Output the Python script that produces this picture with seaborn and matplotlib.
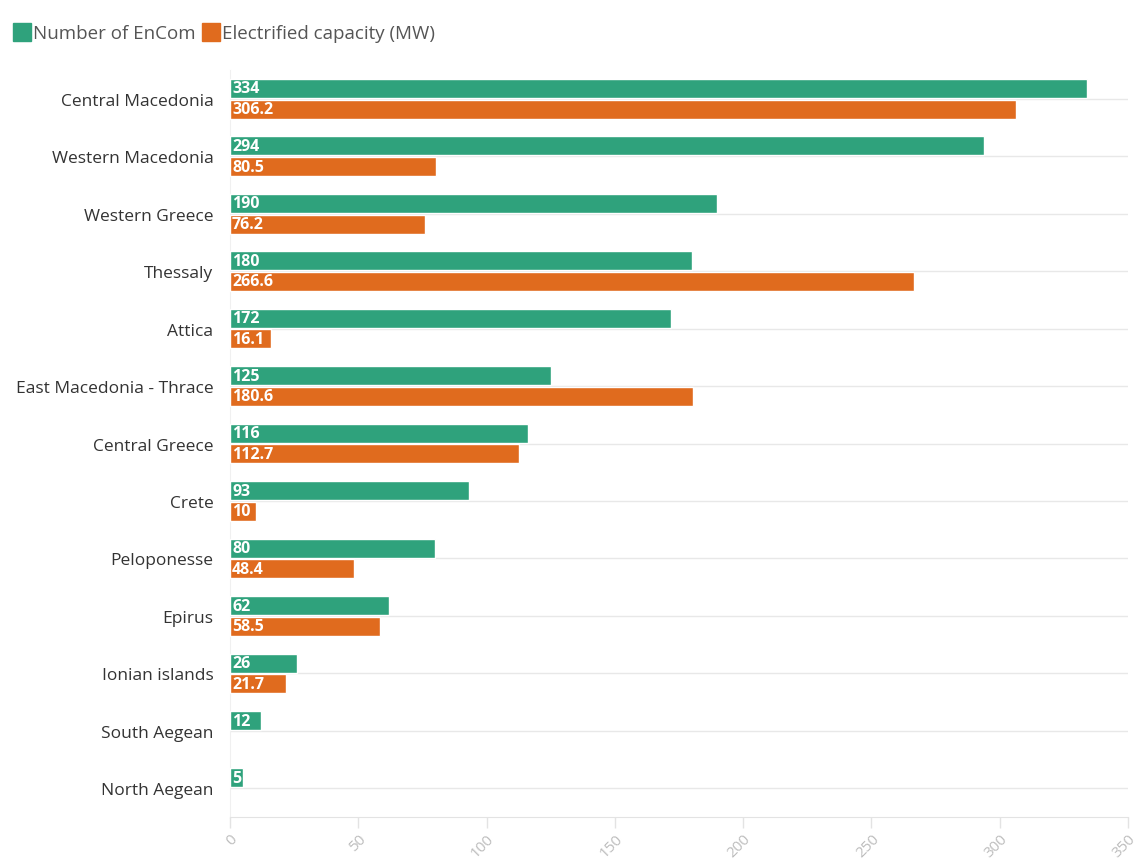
import numpy as np
import pandas as pd
import seaborn as sns
from matplotlib import pyplot as plt
from matplotlib.lines import Line2D

regions = ['Central Macedonia', 'Western Macedonia', 'Western Greece', 'Thessaly',
           'Attica', 'East Macedonia - Thrace', 'Central Greece', 'Crete',
           'Peloponesse', 'Epirus', 'Ionian islands', 'South Aegean', 'North Aegean']
n_encom = [334, 294, 190, 180, 172, 125, 116, 93, 80, 62, 26, 12, 5]
capacity = [306.2, 80.5, 76.2, 266.6, 16.1, 180.6, 112.7, 10, 48.4, 58.5, 21.7, np.nan, np.nan]
series = ['Number of EnCom', 'Electrified capacity (MW)']
colors = ['#2fa27c', '#e06b1e']
xticks = [0, 50, 100, 150, 200, 250, 300, 350]

df = pd.DataFrame({
    'region': regions * 2,
    'value': n_encom + capacity,
    'series': [series[0]] * len(regions) + [series[1]] * len(regions),
})

sns.set_style('white')
plt.rcParams['font.family'] = ['Open Sans', 'DejaVu Sans']

fig = plt.figure(figsize=(11.35, 8.62), dpi=100)
ax = fig.add_axes([0.2026, 0.051, 0.7912, 0.8666])

sns.barplot(data=df, y='region', x='value', hue='series', order=regions,
            hue_order=series, palette=colors, saturation=1, width=0.72, gap=0.08,
            orient='h', ax=ax, legend=False, zorder=3)

# in-bar value labels
for cont, vals in zip(ax.containers, [n_encom, capacity]):
    for bar, v in zip(cont, vals):
        if np.isnan(v):
            continue
        lab = f'{v:g}'
        ax.annotate(lab, (bar.get_x(), bar.get_y() + bar.get_height() / 2),
                    xytext=(1.5, 0), textcoords='offset points', va='center',
                    ha='left', color='white', fontsize=11.5, fontweight='bold', zorder=4)

ax.set_xlim(0, 350)
ax.set_ylim(len(regions) - 0.5, -0.5)
ax.set_xticks(xticks)
ax.set_xticklabels(xticks, rotation=45, ha='right', rotation_mode='anchor',
                   color='#bdbdbd', fontsize=11)
ax.tick_params(axis='x', bottom=True, length=8, width=1, color='#e3e3e3', pad=2)
ax.tick_params(axis='y', left=False, length=0, labelsize=12.5, labelcolor='#333333', pad=12)
ax.set_xlabel('')
ax.set_ylabel('')

for i in range(len(regions)):
    ax.axhline(i, color='#e8e8e8', lw=1, zorder=1)

for s in ['top', 'right']:
    ax.spines[s].set_visible(False)
ax.spines['left'].set_color('#f0f0f0')
ax.spines['bottom'].set_color('#e3e3e3')

handles = [Line2D([], [], marker='s', color=c, ls='', markersize=13) for c in colors]
fig.legend(handles, series, loc='upper left', bbox_to_anchor=(-0.004, 0.99),
           ncol=2, frameon=False, handletextpad=0.1, columnspacing=0.3,
           handlelength=1.0, fontsize=13.5, labelcolor='#555555')

fig.savefig('out.png', dpi=100)
